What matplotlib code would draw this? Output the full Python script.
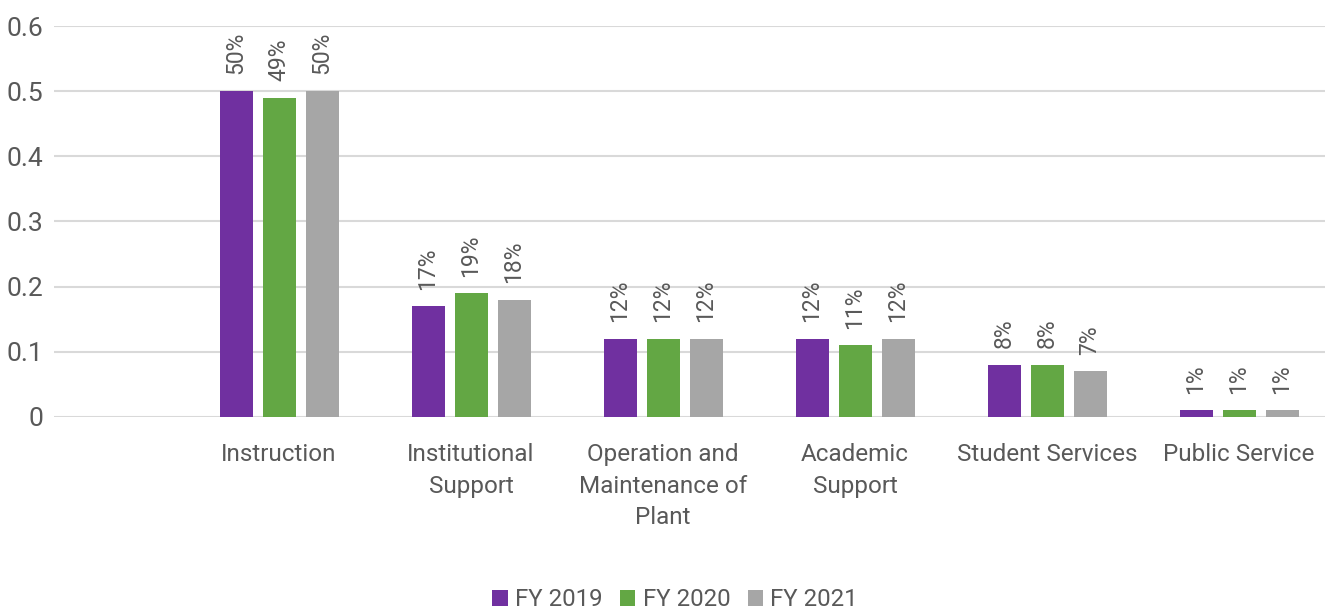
import matplotlib
matplotlib.use("Agg")
import matplotlib.pyplot as plt
import numpy as np

categories = ["Instruction", "Institutional\nSupport", "Operation and\nMaintenance of\nPlant",
              "Academic\nSupport", "Student Services", "Public Service"]
series_names = ["FY 2019", "FY 2020", "FY 2021"]
fy2019 = [0.50, 0.17, 0.12, 0.12, 0.08, 0.01]
fy2020 = [0.49, 0.19, 0.12, 0.11, 0.08, 0.01]
fy2021 = [0.50, 0.18, 0.12, 0.12, 0.07, 0.01]
colors = ["#7030A0", "#63A744", "#A6A6A6"]
yticks = [0, 0.1, 0.2, 0.3, 0.4, 0.5, 0.6]
ytick_labels = ["0", "0.1", "0.2", "0.3", "0.4", "0.5", "0.6"]

plt.rcParams['font.family'] = ['Roboto', 'DejaVu Sans']
text_color = "#595959"

W, H = 1325, 611
fig = plt.figure(figsize=(W / 100, H / 100), dpi=100)
ax = fig.add_axes([54 / W, 194 / H, (W - 54) / W, (417 - 26) / H])

x = np.arange(len(categories))
step = 43 / 192
width = 33 / 192
for i, (vals, name, c) in enumerate(zip([fy2019, fy2020, fy2021], series_names, colors)):
    pos = x + (i - 1) * step
    ax.bar(pos, vals, width=width, color=c, label=name, zorder=3)
    for p, v in zip(pos, vals):
        ax.annotate(f"{round(v * 100)}%", (p, v), xytext=(0, 12), textcoords="offset points",
                    rotation=90, ha="center", va="bottom", fontsize=16.5, color=text_color)

ax.set_xlim(-(279 - 54) / 192, (W - 279) / 192)
ax.set_ylim(0, 0.6)
ax.set_yticks(yticks)
ax.set_yticklabels(ytick_labels)
ax.set_xticks(x)
ax.set_xticklabels(categories, linespacing=1.49)
ax.tick_params(axis="y", length=0, pad=8, labelsize=19, labelcolor=text_color)
ax.tick_params(axis="x", length=0, pad=18.5, labelsize=17.5, labelcolor=text_color)
for lbl in ax.get_xticklabels():
    lbl.set_verticalalignment("top")
ax.grid(axis="y", color="#D9D9D9", linewidth=1.5, zorder=0)
for s in ax.spines.values():
    s.set_visible(False)

fig.legend(loc="center", bbox_to_anchor=(675 / W, 1 - 600 / H), ncol=3, frameon=False,
           fontsize=17.3, handlelength=0.65, handleheight=0.65, handletextpad=0.3,
           columnspacing=0.72, labelcolor=text_color)

fig.savefig("out.png", dpi=100)
